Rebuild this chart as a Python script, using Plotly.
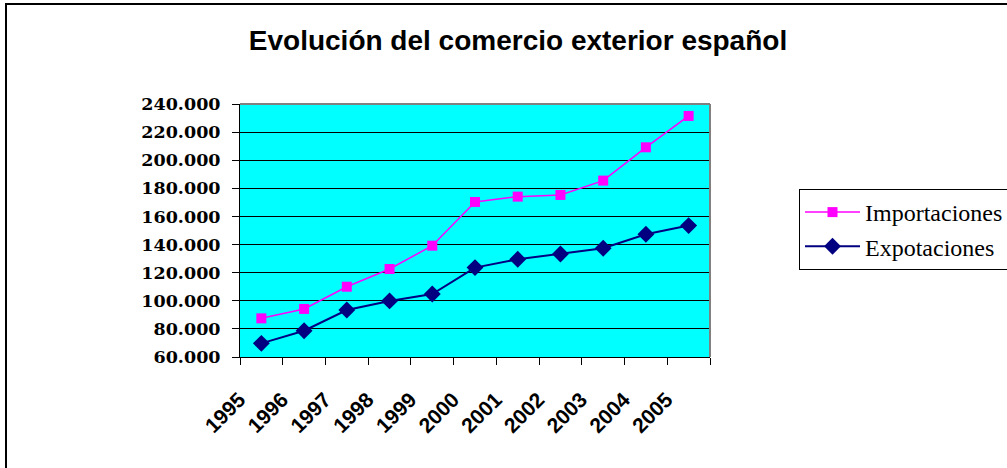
import plotly.graph_objects as go

years = ["1995", "1996", "1997", "1998", "1999", "2000", "2001", "2002", "2003", "2004", "2005"]
importaciones = [87500, 94200, 110000, 122600, 139200, 170300, 174100, 175300, 185500, 209200, 231500]
exportaciones = [69700, 78700, 93400, 99900, 104800, 123600, 129500, 133300, 137400, 147300, 153500]
y_ticks = [60000, 80000, 100000, 120000, 140000, 160000, 180000, 200000, 220000, 240000]

W, H = 1007, 468
L, R, T, B = 240, 710, 104, 357


def px(x):
    return (x - L) / (R - L)


def py(y):
    return (B - y) / (B - T)


fig = go.Figure()
fig.add_trace(go.Scatter(
    x=years, y=importaciones, name="Importaciones", mode="lines+markers",
    line=dict(color="#FF00FF", width=1.5),
    marker=dict(symbol="square", size=10, color="#FF00FF"),
    legendgroup="a",
))
fig.add_trace(go.Scatter(
    x=years, y=exportaciones, name="Expotaciones", mode="lines+markers",
    line=dict(color="#000080", width=2),
    marker=dict(symbol="diamond", size=13, color="#000080"),
    legendgroup="b",
))

shapes = [
    # plot-area top and right border (gray)
    dict(type="line", xref="paper", yref="paper", x0=0, x1=1, y0=1, y1=1,
         line=dict(color="#808080", width=2)),
    dict(type="line", xref="paper", yref="paper", x0=1, x1=1, y0=0, y1=1,
         line=dict(color="#808080", width=2)),
    # outer chart frame (left and top)
    dict(type="line", xref="paper", yref="paper", x0=px(6), x1=px(6), y0=py(4), y1=py(470),
         line=dict(color="black", width=2)),
    dict(type="line", xref="paper", yref="paper", x0=px(5), x1=px(1007), y0=py(4), y1=py(4),
         line=dict(color="black", width=2)),
]

fig.update_layout(
    width=W, height=H,
    margin=dict(l=L, r=W - R, t=T, b=H - B, autoexpand=False),
    paper_bgcolor="white",
    plot_bgcolor="#00FFFF",
    separators=",.",
    title=dict(
        text="<b>Evolución del comercio exterior español</b>",
        font=dict(family="Liberation Sans, Arial", size=28, color="black"),
        x=px(518), xanchor="center", xref="paper",
        y=1 - 40 / H, yanchor="middle",
    ),
    showlegend=True,
    legend=dict(
        x=px(799), y=py(189), xanchor="left", yanchor="top",
        bgcolor="white", bordercolor="black", borderwidth=1,
        font=dict(family="Liberation Serif, Times New Roman", size=24, color="black"),
        itemwidth=55, tracegroupgap=0,
    ),
    shapes=shapes,
)

fig.update_xaxes(
    type="category", categoryorder="array", categoryarray=years,
    range=[-0.5, len(years) - 0.5], automargin=False,
    showgrid=False, showline=True, linecolor="black", linewidth=1,
    ticks="outside", tickson="boundaries", ticklen=7, tickcolor="black",
    tickangle=-45,
    tickfont=dict(family="Liberation Sans, Arial", size=21, color="black", weight="bold"),
    ticklabelstandoff=21, ticklabelshift=-22,
)
fig.update_yaxes(
    range=[60000, 240000], tickvals=y_ticks, tickformat=",.0f", automargin=False,
    showgrid=True, gridcolor="black", gridwidth=1,
    showline=True, linecolor="black", linewidth=1,
    ticks="outside", ticklen=7, tickcolor="black",
    tickfont=dict(family="DejaVu Serif", size=17.5, color="black", weight="bold"),
    ticklabelstandoff=8, zeroline=False,
)

fig.write_html(
    "out.html",
    config={"displayModeBar": False},
    post_script="document.body.style.margin='0';document.body.style.overflow='hidden';",
)
